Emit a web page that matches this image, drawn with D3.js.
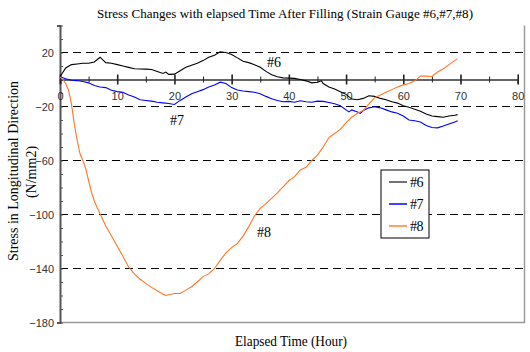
<!DOCTYPE html>
<html>
<head>
<meta charset="utf-8">
<script src="https://cdn.jsdelivr.net/npm/d3@7/dist/d3.min.js"></script>
<style>
  body { margin: 0; background: #fff; }
  svg { display: block; }
  .serif { font-family: "Liberation Serif", "Times New Roman", serif; }
  .tick text { font-family: "Liberation Sans", Arial, sans-serif; font-size: 11px; fill: #333; }
</style>
</head>
<body>
<div id="chart"></div>
<script>
// hours after filling
var t6 = [0,1,2,3,4,5,6,7,8,9,10,11,12,13,14,15,16,17,18,18.5,19,20,21,22,23,24,25,26,27,28,29,30,31,32,33,34,35,36,37,38,39,40,41,42,43,44,45,45.7,46,47,48,49,50,51,52,53,54,55,56,57,58,59,60,61,62,63,64,65,66,67,68,69,69.5];
var g6 = [2,8.5,11,11.5,12,12,13,16.5,12.5,12,11,10,9,8,7.8,7.7,7.4,6,4.5,5.5,3.8,4,6.5,9,10.5,12,14,16.5,18,20.5,20,18.5,16,13.5,12.5,11,9,6,3.5,2,1.2,1,0.8,0,-1,-2.5,-2,-1,-3,-5.5,-7,-9,-11,-14.5,-15,-14,-12,-12.5,-14,-15,-16.5,-17.5,-19.5,-20.5,-22,-23.5,-25.5,-27,-27.5,-28,-27,-26.5,-26];

var t7 = [0,1,2,3,4,5,6,7,8,9,10,11,12,13,14,15,16,17,18,19,20,21,22,23,24,25,26,27,28,29,30,31,32,33,34,35,36,37,38,39,40,41,42,43,44,45,46,47,48,49,50,50.5,51,52,52.5,53,54,55,56,57,58,59,60,61,62,63,64,65,66,67,68,69,69.5];
var g7 = [2,0.5,-0.5,-0.8,-1.5,-2.5,-4.5,-5.5,-6,-8,-9,-9.5,-11.5,-13,-15,-15.5,-16,-16.8,-17.3,-17.8,-18.5,-15.5,-13,-10.5,-9,-7.5,-5.5,-4,-2,-3,-6,-7.8,-8.5,-9,-9.5,-10.5,-12.5,-14.3,-15.5,-16.5,-16.2,-16.8,-15.8,-16.5,-16.8,-16,-16.2,-17,-18,-19.5,-22.5,-24,-22.5,-24,-25,-23,-21,-20.2,-21,-22.5,-24,-25,-27,-30,-30.5,-31.5,-34,-35.5,-35.8,-34.5,-33,-31.5,-30.5];

var t8 = [0,0.5,1,1.5,2,2.5,3,3.5,4,4.5,5,5.5,6,6.5,7,8,9,10,11,12,13,14,15,16,17,18,18.5,19,20,21,22,23,24,25,26,27,28,29,30,31,32,33,34,35,36,37,38,39,40,41,42,43,44,45,46,47,48,49,50,51,52,53,54,55,56,57,58,59,60,61,62,63,64,65,66,67,68,69,69.5];
var g8 = [2,0,-3,-8,-18,-33,-45,-55,-60,-66,-75,-83.5,-90,-95,-99.5,-108.5,-116,-123.5,-131,-139,-144,-148,-151,-154,-156.5,-159,-160,-159.5,-158.5,-158.5,-156,-153.5,-150,-146,-144,-140,-134,-128.5,-124.5,-121.5,-116,-109,-101,-95.5,-92,-88,-84,-79.5,-75,-72,-67,-65,-60,-56,-50,-43,-40,-37,-32,-28,-25,-23,-18,-13.5,-11.5,-9.5,-7.5,-5.5,-4,-3,-1,2.5,2.5,2.2,5.5,8,11,14,15.5];

var seriesNames = ["#6", "#7", "#8"];
var seriesColors = ["#000000", "#0000ff", "#ff7722"];
var legendColors = ["#444444", "#0000ff", "#ffa070"];

var xTicks = [0,10,20,30,40,50,60,70,80];
var yTicks = [20,-20,-60,-100,-140,-180];

var width = 530, height = 352;
var svg = d3.select("#chart").append("svg")
    .attr("width", width)
    .attr("height", height);

var x = d3.scaleLinear().domain([0, 80]).range([60, 517.7]);
var y = d3.scaleLinear().domain([-180, 40]).range([322.5, 25.5]);

// plot frame (right + bottom)
svg.append("path")
    .attr("d", "M524.5," + y(40) + " V" + y(-180) + " H" + x(0))
    .attr("fill", "none")
    .attr("stroke", "#9a9a9a")
    .attr("stroke-width", 1.5);

// dashed grid
svg.selectAll("line.grid")
    .data(yTicks.filter(function(d){ return d > -180; }))
    .enter().append("line")
    .attr("class", "grid")
    .attr("x1", x(0)).attr("x2", 524)
    .attr("y1", function(d){ return y(d); })
    .attr("y2", function(d){ return y(d); })
    .attr("stroke", "#000")
    .attr("stroke-dasharray", "8,5");

// y axis
var yAxis = svg.append("g")
    .attr("transform", "translate(" + x(0) + ",0)")
    .call(d3.axisLeft(y).tickValues(d3.range(-180, 41, 10)).tickSize(3)
        .tickFormat(function(d){ return yTicks.indexOf(d) >= 0 ? d3.format("")(d).replace("-", "\u2212") : ""; }));
yAxis.select(".domain").attr("stroke", "#555").attr("stroke-width", 2);
yAxis.selectAll(".tick line").attr("x2", 3).attr("stroke", "#555");
yAxis.selectAll(".tick text").attr("x", -6);

// x axis along zero
var xAxis = svg.append("g")
    .attr("transform", "translate(0," + y(0) + ")")
    .call(d3.axisBottom(x).tickValues(d3.range(0, 81, 5)).tickSize(4)
        .tickFormat(function(d){ return xTicks.indexOf(d) >= 0 ? d : ""; }));
xAxis.select(".domain").attr("stroke", "#333").attr("stroke-width", 1.5);
xAxis.selectAll(".tick line")
    .attr("stroke", "#222")
    .attr("stroke-width", function(d){ return d % 10 === 0 ? 1.6 : 1; })
    .attr("y1", function(d){ return d % 10 === 0 ? -5 : -3; })
    .attr("y2", function(d){ return d % 10 === 0 ? 5 : 3; });
xAxis.selectAll(".tick text").attr("y", 20).attr("dy", 0);

// series
var line = d3.line()
    .x(function(d){ return x(d[0]); })
    .y(function(d){ return y(d[1]); });

var series = [d3.zip(t6, g6), d3.zip(t7, g7), d3.zip(t8, g8)];
svg.selectAll("path.series")
    .data(series).enter().append("path")
    .attr("class", "series")
    .attr("d", line)
    .attr("fill", "none")
    .attr("stroke", function(d, i){ return seriesColors[i]; })
    .attr("stroke-width", 1.1);

// curve labels
var annos = [[267, 67, "#6"], [170, 125, "#7"], [257, 237, "#8"]];
svg.selectAll("text.anno")
    .data(annos).enter().append("text")
    .attr("class", "anno serif")
    .attr("x", function(d){ return d[0]; })
    .attr("y", function(d){ return d[1]; })
    .attr("font-size", 14)
    .text(function(d){ return d[2]; });

// legend
var lg = svg.append("g").attr("transform", "translate(381,170)");
lg.append("rect")
    .attr("width", 48).attr("height", 68)
    .attr("fill", "#fff").attr("stroke", "#000");
seriesNames.forEach(function(n, i) {
    var ly = 12 + i * 22;
    lg.append("line")
        .attr("x1", 8).attr("x2", 26)
        .attr("y1", ly).attr("y2", ly)
        .attr("stroke", legendColors[i])
        .attr("stroke-width", i == 2 ? 2 : 1.5);
    lg.append("text")
        .attr("class", "serif")
        .attr("x", 29).attr("y", ly + 5)
        .attr("font-size", 14)
        .attr("letter-spacing", -0.5)
        .text(n);
});

// titles
svg.append("text")
    .attr("class", "serif")
    .attr("x", 285).attr("y", 18)
    .attr("text-anchor", "middle")
    .attr("font-size", 13)
    .attr("textLength", 376)
    .attr("lengthAdjust", "spacingAndGlyphs")
    .text("Stress Changes with elapsed Time After Filling (Strain Gauge #6,#7,#8)");

svg.append("text")
    .attr("class", "serif")
    .attr("x", 291).attr("y", 346)
    .attr("text-anchor", "middle")
    .attr("font-size", 14)
    .attr("textLength", 112)
    .attr("lengthAdjust", "spacingAndGlyphs")
    .text("Elapsed Time (Hour)");

svg.append("text")
    .attr("class", "serif")
    .attr("transform", "translate(18,171) rotate(-90)")
    .attr("text-anchor", "middle")
    .attr("font-size", 14)
    .text("Stress in Longitudinal Direction");

svg.append("text")
    .attr("class", "serif")
    .attr("transform", "translate(36,172) rotate(-90)")
    .attr("text-anchor", "middle")
    .attr("font-size", 14)
    .text("(N/mm2)");
</script>
</body>
</html>
